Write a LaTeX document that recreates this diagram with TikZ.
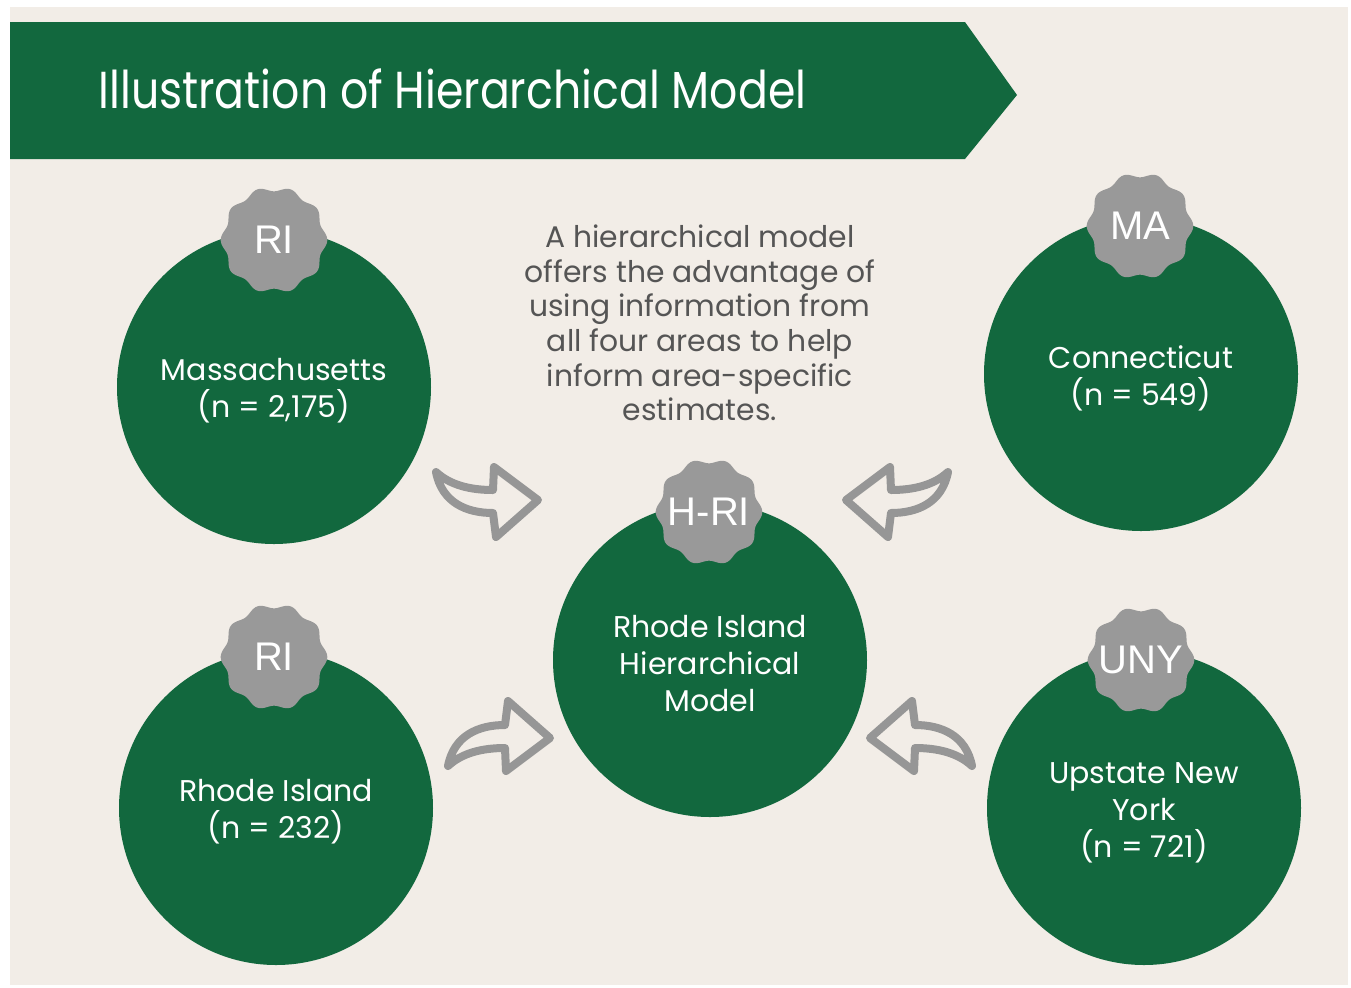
\documentclass[tikz,border=0pt]{standalone}
\usepackage{fontspec}
\setmainfont{Poppins}
\newfontfamily\titlefont[FakeStretch=0.85]{Poppins}
\newfontfamily\badgefont{Liberation Sans}
\definecolor{bgbeige}{RGB}{242,237,231}
\definecolor{darkgreen}{RGB}{18,104,62}
\definecolor{badgegray}{RGB}{153,153,153}
\definecolor{arrowgray}{RGB}{150,150,150}
\definecolor{desctext}{RGB}{85,85,85}
\tikzset{
  areacircle/.style={circle, fill=darkgreen, minimum size=157pt, inner sep=0pt},
  circletext/.style={text=white, align=center, inner sep=0pt, font=\fontsize{15}{18.5}\selectfont},
  badgetext/.style={text=white, font=\badgefont\fontsize{20}{24}\selectfont, inner sep=0pt},
  arrowstyle/.style={draw=arrowgray, line width=4pt, fill=bgbeige, line join=round},
}
\newcommand\mybadge[4]{%
  \fill[badgegray] plot[domain=0:360, samples=200, variable=\t]
    ({#2+(51+2.3*cos(10*\t))*cos(\t)},{#3+(51+2.3*cos(10*\t))*sin(\t)}) -- cycle;
  \node[badgetext] (#1) at (#2,#3) {#4};}
\newcommand\curvedarrow[1]{%
  \begin{scope}[#1]
    \draw[arrowstyle] (-56,-31) .. controls (-42,-18) and (-22,-13) .. (1,-13)
      -- (2,-36) -- (46,-3) -- (4,34) -- (1,10)
      .. controls (-25,10) and (-50,0) .. (-56,-31) -- cycle;
  \end{scope}}
\begin{document}
\begin{tikzpicture}[x=0.5pt,y=-0.5pt]
\useasboundingbox (0,0) rectangle (1351,987);
\fill[white] (0,0) rectangle (1351,987);
\fill[bgbeige] (10,7) rectangle (1348,985);
% banner
\fill[darkgreen] (10,22) -- (965,22) -- (1017,95) -- (965,159) -- (10,159) -- cycle;
\node[anchor=base west, text=white, inner sep=0pt,
  font=\titlefont\fontsize{26}{30}\selectfont] (title) at (98,108) {Illustration of Hierarchical Model};
% description
\node[align=center, text=desctext, font=\fontsize{14.9}{17.3}\selectfont] (desc) at (700,323)
  {A hierarchical model\\offers the advantage of\\using information from\\all four areas to help\\inform area-specific\\estimates.};
% circles
\node[areacircle] (ma) at (274,387) {};
\node[areacircle] (ct) at (1141,374) {};
\node[areacircle] (hri) at (710,660) {};
\node[areacircle] (ri) at (276,808) {};
\node[areacircle] (uny) at (1144,808) {};
\node[circletext] (ma-t) at ([yshift=-2pt]ma.center) {Massachusetts\\(n = 2,175)};
\node[circletext] (ct-t) at ([yshift=-2pt]ct.center) {Connecticut\\(n = 549)};
\node[circletext] (hri-t) at ([yshift=-2pt]hri.center) {Rhode Island\\Hierarchical\\Model};
\node[circletext] (ri-t) at ([yshift=-2pt]ri.center) {Rhode Island\\(n = 232)};
\node[circletext] (uny-t) at ([yshift=-2.5pt]uny.center) {Upstate New\\York\\(n = 721)};
% badges
\mybadge{bma}{274}{240}{RI}
\mybadge{bct}{1140}{226}{MA}
\mybadge{bhri}{709}{512}{H-RI}
\mybadge{bri}{274}{657}{RI}
\mybadge{buny}{1141}{660}{UNY}
% arrows
\curvedarrow{shift={(492,503)}}
\curvedarrow{shift={(892,503)}, xscale=-1}
\curvedarrow{shift={(504,735)}, yscale=-1}
\curvedarrow{shift={(916,735)}, xscale=-1, yscale=-1}
\end{tikzpicture}
\end{document}
